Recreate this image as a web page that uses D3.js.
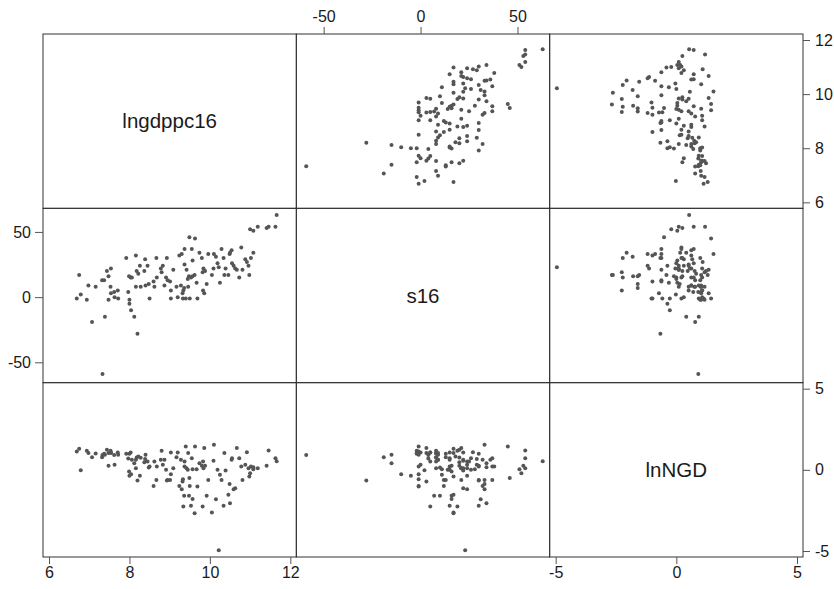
<!DOCTYPE html>
<html>
<head>
<meta charset="utf-8">
<script src="https://cdn.jsdelivr.net/npm/d3@7"></script>
<style>
  body { margin: 0; background: #fff; }
  text { font-family: "Liberation Sans", Arial, sans-serif; fill: #1a1a1a; }
</style>
</head>
<body>
<div id="chart"></div>
<script>
// variable names, in matrix order
var varNames = ["lngdppc16", "s16", "lnNGD"];

// one entry per country
var lngdppc16 = [6.69,6.75,6.79,6.94,6.98,7.07,7.16,7.32,7.33,7.37,7.39,7.44,7.48,7.48,7.53,7.54,7.54,7.62,7.63,7.71,
  7.72,7.92,7.97,7.99,8.00,8.00,8.03,8.04,8.06,8.12,8.16,8.16,8.18,8.20,8.22,8.26,8.28,8.37,8.39,8.40,
  8.45,8.48,8.50,8.60,8.62,8.67,8.68,8.78,8.80,8.83,8.87,8.91,8.93,8.95,9.01,9.03,9.03,9.09,9.17,9.20,
  9.24,9.28,9.30,9.32,9.33,9.34,9.36,9.37,9.37,9.40,9.42,9.45,9.46,9.48,9.49,9.50,9.53,9.55,9.57,9.57,
  9.62,9.63,9.67,9.69,9.74,9.80,9.82,9.83,9.84,9.86,9.88,9.92,9.96,10.05,10.09,10.10,10.15,10.19,10.22,10.25,
  10.29,10.34,10.36,10.39,10.46,10.49,10.50,10.54,10.55,10.59,10.63,10.67,10.73,10.78,10.81,10.88,10.92,10.96,10.98,11.00,
  11.02,11.08,11.08,11.19,11.41,11.46,11.63,11.66];

var s16 = [-1,17,2,-2,9,-19,8,13,-59,13,-15,20,16,-2,8,22,3,4,0,5,
  -1,30,4,16,-2,-5,15,-10,15,-15,32,8,20,-28,18,24,8,20,29,9,
  24,10,-1,12,8,30,15,22,19,24,9,15,30,13,12,5,-1,21,8,0,
  32,9,33,3,-1,5,7,37,25,-1,21,14,8,16,46,-1,15,37,28,16,
  17,45,11,-1,34,30,19,5,22,3,20,10,33,17,22,33,31,26,23,11,
  37,30,17,22,17,33,34,36,26,24,22,21,15,38,21,29,27,24,17,52,
  30,51,34,54,53,54,54,63];

var lnNGD = [1.13,1.30,-0.02,1.17,1.03,0.78,1.01,0.78,0.91,0.99,0.93,1.23,0.25,1.03,1.17,1.07,1.03,0.91,0.31,1.07,
  0.93,0.99,0.70,-0.10,0.99,-0.37,1.07,-0.27,0.62,0.41,0.62,0.10,0.76,-0.66,0.82,-0.37,0.74,0.47,0.66,0.93,
  0.51,0.14,0.21,-0.99,0.51,-0.62,0.21,0.62,1.17,0.31,0.62,0.00,-0.66,-0.62,-0.62,1.07,-0.27,0.10,0.78,1.07,
  -0.99,0.62,-1.19,-0.72,-0.58,-2.26,-1.60,0.21,0.51,1.44,0.10,0.00,1.03,-1.60,-0.51,-0.99,-2.22,0.72,0.04,-1.79,
  -2.67,1.44,0.04,-1.03,0.41,0.25,-2.26,0.51,0.10,1.34,0.25,-1.60,-0.62,-2.63,0.56,1.54,-1.81,0.00,-4.95,-0.31,
  -0.62,-2.22,1.03,-0.04,-1.54,-0.88,-2.06,0.62,0.72,-1.19,-1.13,1.34,0.72,0.21,-0.62,0.31,1.09,0.10,-0.41,-0.21,
  0.21,0.04,0.16,0.10,0.25,1.19,0.72,0.53];

// axis ranges and tick labels
var gdpRange = [6, 12], sRange = [-61, 63.5], ngdRange = [-5, 5];
var gdpTicks = [6, 8, 10, 12];
var sTicks = [-50, 0, 50];
var ngdTicks = [-5, 0, 5];

var columns = [lngdppc16, s16, lnNGD];
var ranges = [gdpRange, sRange, ngdRange];

var W = 834, H = 589;
var mLeft = 43, mRight = 803, mTop = 34, mBottom = 557;
var cw = (mRight - mLeft) / 3, rh = (mBottom - mTop) / 3;
var pad = 6;

var svg = d3.select("#chart").append("svg")
    .attr("width", W)
    .attr("height", H);

var xs = ranges.map(function(r, j) {
    return d3.scaleLinear().domain(r).range([mLeft + j * cw + pad, mLeft + (j + 1) * cw - pad]);
});
var ys = ranges.map(function(r, i) {
    return d3.scaleLinear().domain(r).range([mTop + (i + 1) * rh - pad, mTop + i * rh + pad]);
});

// points
for (var i = 0; i < 3; i++) {
    for (var j = 0; j < 3; j++) {
        if (i == j) continue;
        svg.append("g").selectAll("circle")
            .data(d3.range(lngdppc16.length))
            .enter()
            .append("circle")
            .attr("cx", function(k) { return xs[j](columns[j][k]); })
            .attr("cy", function(k) { return ys[i](columns[i][k]); })
            .attr("r", 2)
            .style("fill", "#555555");
    }
}

// diagonal labels
varNames.forEach(function(name, i) {
    svg.append("text")
        .attr("x", mLeft + (i + 0.5) * cw)
        .attr("y", mTop + (i + 0.5) * rh + 7)
        .attr("text-anchor", "middle")
        .style("font-size", "20.5px")
        .text(name);
});

// panel frames
for (var i = 0; i < 3; i++) {
    for (var j = 0; j < 3; j++) {
        svg.append("rect")
            .attr("x", mLeft + j * cw)
            .attr("y", mTop + i * rh)
            .attr("width", cw)
            .attr("height", rh)
            .style("fill", "none")
            .style("stroke", "#333")
            .style("stroke-width", 1);
    }
}

var fmt = function(d) { return String(d); };

function styleAxis(g) {
    g.select(".domain").remove();
    g.selectAll(".tick line").style("stroke", "#555");
    g.selectAll(".tick text")
        .style("font-size", "16px")
        .style("font-family", "Liberation Sans, Arial, sans-serif")
        .style("fill", "#1a1a1a");
}

// top axis over s16 column
svg.append("g")
    .attr("transform", "translate(0," + mTop + ")")
    .call(d3.axisTop(xs[1]).tickValues(sTicks).tickFormat(fmt).tickSize(7).tickPadding(5))
    .call(styleAxis);

// left axis for s16 row
svg.append("g")
    .attr("transform", "translate(" + mLeft + ",0)")
    .call(d3.axisLeft(ys[1]).tickValues(sTicks).tickFormat(fmt).tickSize(8).tickPadding(4))
    .call(styleAxis);

// right axes
svg.append("g")
    .attr("transform", "translate(" + mRight + ",0)")
    .call(d3.axisRight(ys[0]).tickValues(gdpTicks).tickFormat(fmt).tickSize(7).tickPadding(5))
    .call(styleAxis);
svg.append("g")
    .attr("transform", "translate(" + mRight + ",0)")
    .call(d3.axisRight(ys[2]).tickValues(ngdTicks).tickFormat(fmt).tickSize(7).tickPadding(5))
    .call(styleAxis);

// bottom axes
svg.append("g")
    .attr("transform", "translate(0," + mBottom + ")")
    .call(d3.axisBottom(xs[0]).tickValues(gdpTicks).tickFormat(fmt).tickSize(7).tickPadding(3))
    .call(styleAxis);
svg.append("g")
    .attr("transform", "translate(0," + mBottom + ")")
    .call(d3.axisBottom(xs[2]).tickValues(ngdTicks).tickFormat(fmt).tickSize(7).tickPadding(3))
    .call(styleAxis);
</script>
</body>
</html>
